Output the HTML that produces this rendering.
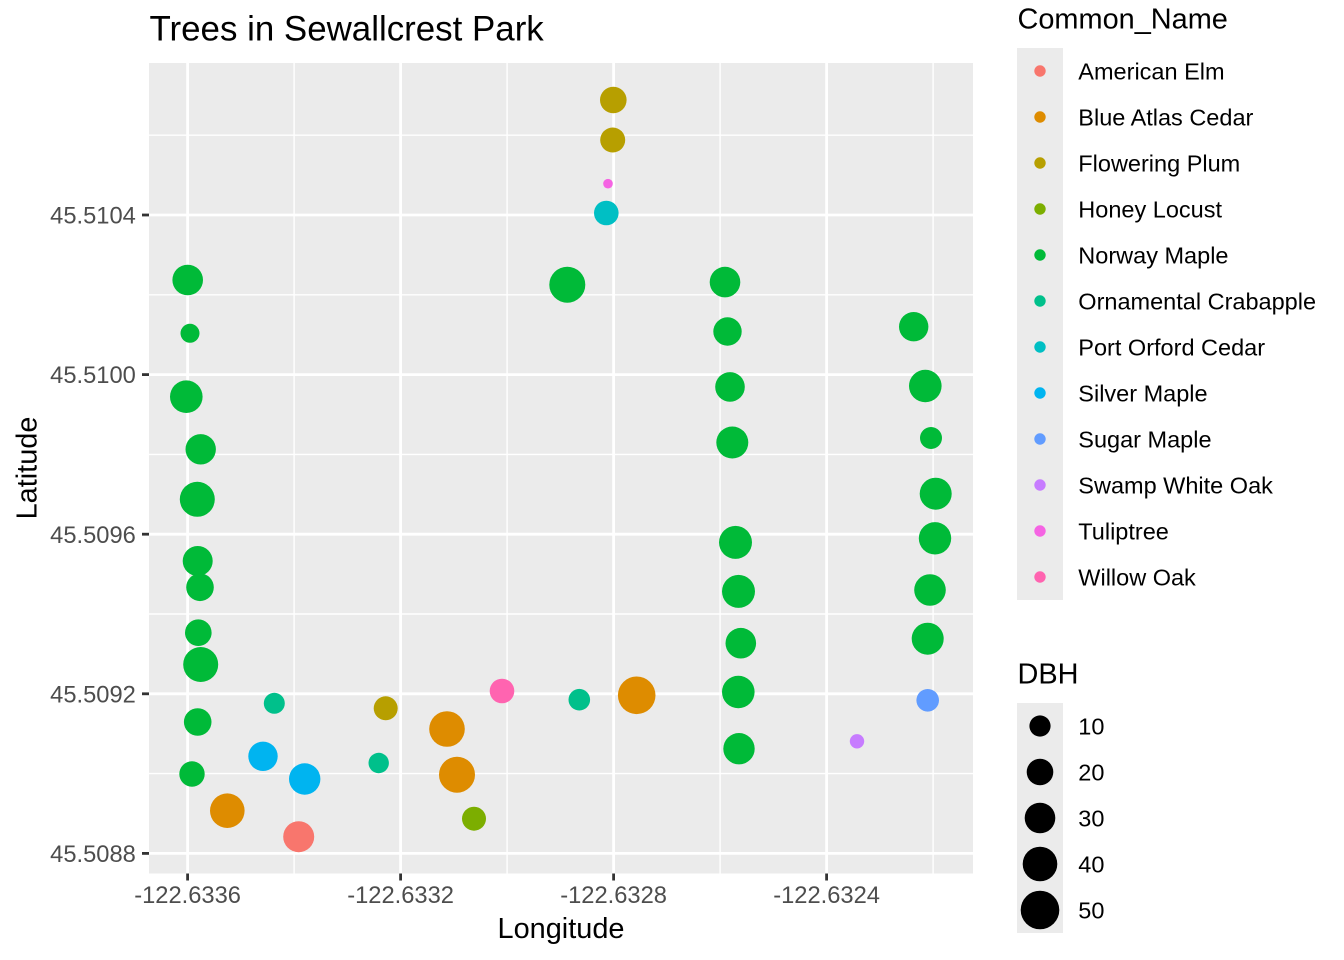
<!DOCTYPE html>
<html>
<head>
<meta charset="utf-8">
<style>
html,body{margin:0;padding:0;background:#fff;}
svg{display:block;}
text{font-family:"Liberation Sans",Arial,sans-serif;}
</style>
</head>
<body>
<svg width="1344" height="960" viewBox="0 0 1344 960" xmlns="http://www.w3.org/2000/svg">
<rect x="0" y="0" width="1344" height="960" fill="#ffffff"/>
<!-- panel -->
<rect x="149" y="63" width="824" height="810.5" fill="#EBEBEB"/>
<!-- minor grid -->
<g stroke="#ffffff" stroke-width="1.4">
<line x1="149" x2="973" y1="135.2" y2="135.2"/>
<line x1="149" x2="973" y1="294.8" y2="294.8"/>
<line x1="149" x2="973" y1="454.4" y2="454.4"/>
<line x1="149" x2="973" y1="614" y2="614"/>
<line x1="149" x2="973" y1="773.6" y2="773.6"/>
<line y1="63" y2="873.5" x1="294.1" x2="294.1"/>
<line y1="63" y2="873.5" x1="507.1" x2="507.1"/>
<line y1="63" y2="873.5" x1="720.1" x2="720.1"/>
<line y1="63" y2="873.5" x1="933.1" x2="933.1"/>
</g>
<!-- major grid -->
<g stroke="#ffffff" stroke-width="2.8">
<line x1="149" x2="973" y1="215" y2="215"/>
<line x1="149" x2="973" y1="374.6" y2="374.6"/>
<line x1="149" x2="973" y1="534.2" y2="534.2"/>
<line x1="149" x2="973" y1="693.8" y2="693.8"/>
<line x1="149" x2="973" y1="853.4" y2="853.4"/>
<line y1="63" y2="873.5" x1="187.6" x2="187.6"/>
<line y1="63" y2="873.5" x1="400.6" x2="400.6"/>
<line y1="63" y2="873.5" x1="613.6" x2="613.6"/>
<line y1="63" y2="873.5" x1="826.6" x2="826.6"/>
</g>
<!-- points -->
<g>
<circle cx="187.7" cy="280" r="15.3" fill="#00BA38"/>
<circle cx="190" cy="333.3" r="9.5" fill="#00BA38"/>
<circle cx="186.3" cy="396.7" r="16.3" fill="#00BA38"/>
<circle cx="200.7" cy="449.3" r="15.2" fill="#00BA38"/>
<circle cx="197.3" cy="499.3" r="17.5" fill="#00BA38"/>
<circle cx="197.7" cy="561" r="15" fill="#00BA38"/>
<circle cx="200" cy="587.3" r="13.8" fill="#00BA38"/>
<circle cx="198.3" cy="632.7" r="13.3" fill="#00BA38"/>
<circle cx="200.7" cy="664.5" r="17.5" fill="#00BA38"/>
<circle cx="197.7" cy="722" r="13.8" fill="#00BA38"/>
<circle cx="192" cy="774" r="12.7" fill="#00BA38"/>
<circle cx="227.3" cy="810.7" r="17.3" fill="#DE8C00"/>
<circle cx="274.3" cy="703.3" r="10.5" fill="#00C08B"/>
<circle cx="263" cy="756.3" r="14.7" fill="#00B4F0"/>
<circle cx="304.7" cy="779" r="15.7" fill="#00B4F0"/>
<circle cx="298.7" cy="836.7" r="15.5" fill="#F8766D"/>
<circle cx="378.7" cy="763" r="10.2" fill="#00C08B"/>
<circle cx="385.7" cy="708.3" r="12" fill="#B79F00"/>
<circle cx="447" cy="729" r="17.8" fill="#DE8C00"/>
<circle cx="457" cy="774.7" r="18" fill="#DE8C00"/>
<circle cx="474" cy="818.7" r="12" fill="#7CAE00"/>
<circle cx="502" cy="691" r="12.3" fill="#FF64B0"/>
<circle cx="613.3" cy="100" r="13.3" fill="#B79F00"/>
<circle cx="612.7" cy="140" r="12.5" fill="#B79F00"/>
<circle cx="608" cy="183.7" r="4.8" fill="#F564E3"/>
<circle cx="606.3" cy="213" r="12.3" fill="#00BFC4"/>
<circle cx="567.3" cy="284.7" r="18" fill="#00BA38"/>
<circle cx="579.3" cy="699.7" r="10.8" fill="#00C08B"/>
<circle cx="636.7" cy="695.3" r="18.8" fill="#DE8C00"/>
<circle cx="725" cy="282.1" r="15.3" fill="#00BA38"/>
<circle cx="727.5" cy="331.5" r="14.2" fill="#00BA38"/>
<circle cx="730" cy="386.9" r="14.8" fill="#00BA38"/>
<circle cx="732.3" cy="442.5" r="16" fill="#00BA38"/>
<circle cx="735.5" cy="542.4" r="16.5" fill="#00BA38"/>
<circle cx="738.5" cy="591.4" r="16.5" fill="#00BA38"/>
<circle cx="740.8" cy="643.2" r="15.3" fill="#00BA38"/>
<circle cx="738.3" cy="692" r="16.3" fill="#00BA38"/>
<circle cx="739" cy="748.7" r="15.7" fill="#00BA38"/>
<circle cx="857" cy="741.3" r="7.2" fill="#C77CFF"/>
<circle cx="913.7" cy="326.7" r="14.7" fill="#00BA38"/>
<circle cx="925.3" cy="386" r="16.3" fill="#00BA38"/>
<circle cx="931" cy="438" r="11" fill="#00BA38"/>
<circle cx="935.7" cy="493.7" r="16" fill="#00BA38"/>
<circle cx="935" cy="538.3" r="16.2" fill="#00BA38"/>
<circle cx="930" cy="590" r="15.8" fill="#00BA38"/>
<circle cx="927.7" cy="638.7" r="16" fill="#00BA38"/>
<circle cx="927.7" cy="700.3" r="11.3" fill="#619CFF"/>
</g>
<!-- axis ticks -->
<g stroke="#333333" stroke-width="2.8">
<line x1="142" x2="149" y1="215" y2="215"/>
<line x1="142" x2="149" y1="374.6" y2="374.6"/>
<line x1="142" x2="149" y1="534.2" y2="534.2"/>
<line x1="142" x2="149" y1="693.8" y2="693.8"/>
<line x1="142" x2="149" y1="853.4" y2="853.4"/>
<line y1="873.5" y2="880.5" x1="187.6" x2="187.6"/>
<line y1="873.5" y2="880.5" x1="400.6" x2="400.6"/>
<line y1="873.5" y2="880.5" x1="613.6" x2="613.6"/>
<line y1="873.5" y2="880.5" x1="826.6" x2="826.6"/>
</g>
<!-- tick labels -->
<g fill="#4D4D4D" font-size="23.7" text-anchor="end">
<text x="135.8" y="223.6">45.5104</text>
<text x="135.8" y="383.2">45.5100</text>
<text x="135.8" y="542.8">45.5096</text>
<text x="135.8" y="702.4">45.5092</text>
<text x="135.8" y="862">45.5088</text>
</g>
<g fill="#4D4D4D" font-size="23.7" text-anchor="middle">
<text x="187.6" y="903.2">-122.6336</text>
<text x="400.6" y="903.2">-122.6332</text>
<text x="613.6" y="903.2">-122.6328</text>
<text x="826.6" y="903.2">-122.6324</text>
</g>
<!-- axis titles -->
<text x="561" y="938" font-size="28.9" text-anchor="middle" fill="#000">Longitude</text>
<text transform="translate(36.5,468) rotate(-90)" font-size="28.9" text-anchor="middle" fill="#000">Latitude</text>
<!-- title -->
<text x="149.5" y="40.7" font-size="34.9" fill="#000">Trees in Sewallcrest Park</text>
<!-- legend: Common_Name -->
<text x="1017.5" y="28.3" font-size="28.9" fill="#000">Common_Name</text>
<rect x="1017" y="48" width="46" height="552" fill="#EBEBEB"/>
<g>
<circle cx="1040" cy="71" r="5.7" fill="#F8766D"/>
<circle cx="1040" cy="117" r="5.7" fill="#DE8C00"/>
<circle cx="1040" cy="163" r="5.7" fill="#B79F00"/>
<circle cx="1040" cy="209" r="5.7" fill="#7CAE00"/>
<circle cx="1040" cy="255" r="5.7" fill="#00BA38"/>
<circle cx="1040" cy="301" r="5.7" fill="#00C08B"/>
<circle cx="1040" cy="347" r="5.7" fill="#00BFC4"/>
<circle cx="1040" cy="393" r="5.7" fill="#00B4F0"/>
<circle cx="1040" cy="439" r="5.7" fill="#619CFF"/>
<circle cx="1040" cy="485" r="5.7" fill="#C77CFF"/>
<circle cx="1040" cy="531" r="5.7" fill="#F564E3"/>
<circle cx="1040" cy="577" r="5.7" fill="#FF64B0"/>
</g>
<g font-size="23.5" fill="#000">
<text x="1078.3" y="79.4">American Elm</text>
<text x="1078.3" y="125.4">Blue Atlas Cedar</text>
<text x="1078.3" y="171.4">Flowering Plum</text>
<text x="1078.3" y="217.4">Honey Locust</text>
<text x="1078.3" y="263.4">Norway Maple</text>
<text x="1078.3" y="309.4">Ornamental Crabapple</text>
<text x="1078.3" y="355.4">Port Orford Cedar</text>
<text x="1078.3" y="401.4">Silver Maple</text>
<text x="1078.3" y="447.4">Sugar Maple</text>
<text x="1078.3" y="493.4">Swamp White Oak</text>
<text x="1078.3" y="539.4">Tuliptree</text>
<text x="1078.3" y="585.4">Willow Oak</text>
</g>
<!-- legend: DBH -->
<text x="1017.5" y="683.3" font-size="28.9" fill="#000">DBH</text>
<rect x="1017" y="703" width="46" height="230" fill="#EBEBEB"/>
<g fill="#000">
<circle cx="1040" cy="726" r="10.6"/>
<circle cx="1040" cy="772" r="13.3"/>
<circle cx="1040" cy="818" r="15.3"/>
<circle cx="1040" cy="864" r="17.3"/>
<circle cx="1040" cy="910" r="19.3"/>
</g>
<g font-size="23.5" fill="#000">
<text x="1078.3" y="734.4">10</text>
<text x="1078.3" y="780.4">20</text>
<text x="1078.3" y="826.4">30</text>
<text x="1078.3" y="872.4">40</text>
<text x="1078.3" y="918.4">50</text>
</g>
</svg>
</body>
</html>
